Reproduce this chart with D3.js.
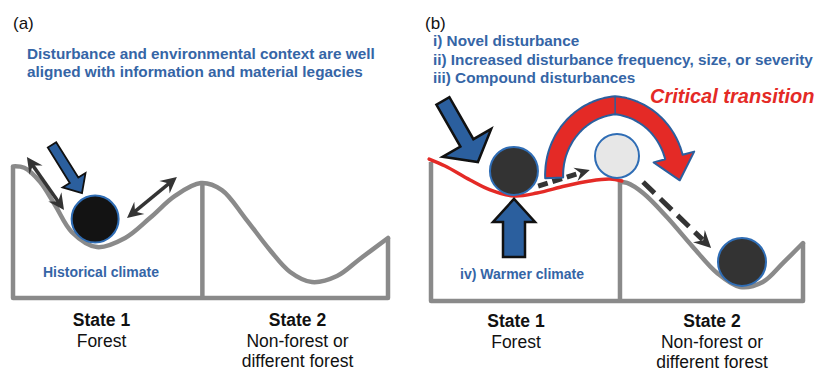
<!DOCTYPE html>
<html><head><meta charset="utf-8">
<script src="https://cdn.jsdelivr.net/npm/d3@7"></script>
<style>
html,body{margin:0;padding:0;background:#fff;}
svg{display:block;font-family:"Liberation Sans",Arial,Helvetica,sans-serif;}
</style>
</head><body>
<svg id="chart" width="818" height="371"></svg>
<script>
// ---------------- data (landscape units: x 0..100 across a panel, y = height above the floor) -------------
const panelLabels = ["(a)", "(b)"];
const stateTitles = ["State 1", "State 2"];
const stateSubtitles = [["Forest"], ["Non-forest or", "different forest"]];
const headerA = ["Disturbance and environmental context are well",
                 "aligned with information and material legacies"];
const headerB = ["i) Novel disturbance",
                 "ii) Increased disturbance frequency, size, or severity",
                 "iii) Compound disturbances"];
const climateA = "Historical climate";
const climateB = "iv) Warmer climate";
const transitionLabel = "Critical transition";

// stability landscape profiles
const profileA = [[0,94],[3,93],[7.2,83],[11.2,66.4],[15.7,47.1],[22.4,36.4],[29.9,42.9],[36.5,57.1],
                  [43.2,72.9],[50.1,82.1],[55.7,77.1],[61.9,57.1],[68.5,34.3],[73.9,18.6],[79.7,11.4],
                  [86.4,15.7],[92.5,27.9],[100,42.9]];
const dividerA = [50.5, 82];
const profileBWarm = [[-0.5,101.4],[3.8,96.4],[10.5,86.4],[15.9,79.3],[22.3,75],[28.5,77.1],[36,82.1],
                      [42.7,85.7],[48.1,87.1],[51.3,85.7]];
const profileBState2 = [[50.8,85],[52.7,84.3],[57,77.1],[63.4,60],[70.4,38.6],[76.9,20],[83.1,10],
                        [89.2,13.6],[94.6,27.1],[100,41.4]];
const leftWallB = 99.3;
const dividerB = [50.8, 85];

// balls (system states)
const ballsA = [{x:21.9, y:56.4, kind:"current"}];
const ballsB = [{x:22.3, y:92.9, kind:"current"}, {x:50.0, y:103.6, kind:"ghost"}, {x:83.6, y:27.9, kind:"current"}];

// arrows  [x1,y1,x2,y2]
const disturbArrowA = [10.4,109.3,18.4,75];
const feedbackArrowsA = [[3.7,100.7,13.6,62.9],[30.4,57.1,43.7,86.4]];
const disturbArrowB = [3.2,142.9,12.6,99.3];
const climateArrowB = [22.3,31.4,22.3,72.9];
const dashedArrowsB = [[28.8,82.1,42.7,93.6],[57.0,85.0,75.3,37.9]];
const transitionArch = {cx:49.5, cy:90};

// ---------------- styles ----------------
const GRAY = "#8a8a8a", BLUE_TXT = "#3565a6", BLUE_FILL = "#2b5f9e", BALL_STROKE = "#2f6db5",
      RED = "#e42a26", DARK = "#343434";

const svg = d3.select("#chart");

const xA = d3.scaleLinear().domain([0,100]).range([13,388]);
const yA = d3.scaleLinear().domain([0,100]).range([298,158]);
const xB = d3.scaleLinear().domain([0,100]).range([431,803]);
const yB = d3.scaleLinear().domain([0,100]).range([301,161]);

function lineGen(xs, ys, curve) {
  return d3.line().x(d => xs(d[0])).y(d => ys(d[1])).curve(curve || d3.curveLinear);
}

function blockArrow(x1,y1,x2,y2,sw,hw,hl) {
  const dx = x2-x1, dy = y2-y1, L = Math.hypot(dx,dy);
  const ux = dx/L, uy = dy/L, nx = -uy, ny = ux;
  const bx = x2-ux*hl, by = y2-uy*hl;
  const p = [
    [x1+nx*sw/2, y1+ny*sw/2], [bx+nx*sw/2, by+ny*sw/2], [bx+nx*hw/2, by+ny*hw/2], [x2,y2],
    [bx-nx*hw/2, by-ny*hw/2], [bx-nx*sw/2, by-ny*sw/2], [x1-nx*sw/2, y1-ny*sw/2]
  ];
  return "M" + p.map(q => q[0].toFixed(1)+","+q[1].toFixed(1)).join("L") + "Z";
}

function notchHead(tx,ty,ux,uy,L,W) {
  const nx = -uy, ny = ux;
  const p = [[tx,ty],[tx-ux*L+nx*W/2, ty-uy*L+ny*W/2],[tx-ux*L*0.65, ty-uy*L*0.65],[tx-ux*L-nx*W/2, ty-uy*L-ny*W/2]];
  return "M" + p.map(q => q[0].toFixed(1)+","+q[1].toFixed(1)).join("L") + "Z";
}

// ---------------- panel (a) ----------------
const gA = svg.append("g");
gA.append("path")
  .attr("d", lineGen(xA,yA)([[0,profileA[0][1]],[0,0],[100,0],[100,profileA[profileA.length-1][1]]]))
  .attr("fill","none").attr("stroke",GRAY).attr("stroke-width",4.5).attr("stroke-linejoin","round");
gA.append("path").attr("d", lineGen(xA,yA)([[dividerA[0],0],[dividerA[0],dividerA[1]]]))
  .attr("stroke",GRAY).attr("stroke-width",4.5);
gA.append("path").attr("d", lineGen(xA,yA,d3.curveCatmullRom.alpha(0.5))(profileA))
  .attr("fill","none").attr("stroke",GRAY).attr("stroke-width",4.5).attr("stroke-linecap","round");

// feedback double arrows
feedbackArrowsA.forEach(a => {
  const x1=xA(a[0]), y1=yA(a[1]), x2=xA(a[2]), y2=yA(a[3]);
  const L=Math.hypot(x2-x1,y2-y1), ux=(x2-x1)/L, uy=(y2-y1)/L;
  const hl=16, hw=16;
  gA.append("line").attr("x1",x1+ux*hl*0.6).attr("y1",y1+uy*hl*0.6).attr("x2",x2-ux*hl*0.6).attr("y2",y2-uy*hl*0.6)
    .attr("stroke",DARK).attr("stroke-width",3.5);
  gA.append("path").attr("d",notchHead(x2,y2,ux,uy,hl,hw)).attr("fill",DARK);
  gA.append("path").attr("d",notchHead(x1,y1,-ux,-uy,hl,hw)).attr("fill",DARK);
});

gA.selectAll("circle.ball").data(ballsA).join("circle").attr("class","ball")
  .attr("cx",d=>xA(d.x)).attr("cy",d=>yA(d.y)).attr("r",23.5)
  .attr("fill","#131313").attr("stroke",BALL_STROKE).attr("stroke-width",2);

gA.append("path")
  .attr("d", blockArrow(xA(disturbArrowA[0]),yA(disturbArrowA[1]),xA(disturbArrowA[2]),yA(disturbArrowA[3]),10,27,15))
  .attr("fill",BLUE_FILL).attr("stroke","#111").attr("stroke-width",1.8).attr("stroke-linejoin","miter");

// ---------------- panel (b) ----------------
const gB = svg.append("g");
gB.append("path")
  .attr("d", lineGen(xB,yB)([[0,leftWallB],[0,0],[100,0],[100,profileBState2[profileBState2.length-1][1]]]))
  .attr("fill","none").attr("stroke",GRAY).attr("stroke-width",4.5).attr("stroke-linejoin","round");
gB.append("path").attr("d", lineGen(xB,yB)([[dividerB[0],0],[dividerB[0],dividerB[1]]]))
  .attr("stroke",GRAY).attr("stroke-width",4.5);
gB.append("path").attr("d", lineGen(xB,yB,d3.curveCatmullRom.alpha(0.5))(profileBState2))
  .attr("fill","none").attr("stroke",GRAY).attr("stroke-width",4.5).attr("stroke-linecap","round");
gB.append("path").attr("d", lineGen(xB,yB,d3.curveCatmullRom.alpha(0.5))(profileBWarm))
  .attr("fill","none").attr("stroke",RED).attr("stroke-width",3.5).attr("stroke-linecap","round");

// dashed arrows
dashedArrowsB.forEach((a,i) => {
  const x1=xB(a[0]), y1=yB(a[1]), x2=xB(a[2]), y2=yB(a[3]);
  const L=Math.hypot(x2-x1,y2-y1), ux=(x2-x1)/L, uy=(y2-y1)/L;
  const hl = i===0 ? 15 : 17, hw = i===0 ? 14 : 17;
  gB.append("line").attr("x1",x1).attr("y1",y1).attr("x2",x2-ux*hl*0.7).attr("y2",y2-uy*hl*0.7)
    .attr("stroke",DARK).attr("stroke-width",5)
    .attr("stroke-dasharray", i===0 ? "10,5" : "16,8");
  gB.append("path").attr("d",notchHead(x2,y2,ux,uy,hl,hw)).attr("fill",DARK);
});

gB.selectAll("circle.ball").data(ballsB).join("circle").attr("class","ball")
  .attr("cx",d=>xB(d.x)).attr("cy",d=>yB(d.y)).attr("r",d=>d.kind==="ghost"?22:24)
  .attr("fill",d=>d.kind==="ghost"?"#e7e7e7":"#333333")
  .attr("stroke",BALL_STROKE).attr("stroke-width",2);

// critical transition arch (two lobes meeting in a slight point at the top)
(function(){
  const cx = xB(transitionArch.cx), cy = yB(transitionArch.cy);
  const d = 6;
  const ro = [70+d,79], ri = [52+d,61];
  const t0 = Math.PI + 0.04, t1 = 0.26, n = 40;
  const pt = (c,r,t) => [c + r[0]*Math.cos(t), cy - r[1]*Math.sin(t)];
  const seg = (c,r,a,b) => d3.range(n+1).map(k => pt(c,r,a+(b-a)*k/n));
  const oTopL = Math.acos(-d/ro[0]), oTopR = Math.acos(d/ro[0]);
  const iTopL = Math.acos(-d/ri[0]), iTopR = Math.acos(d/ri[0]);
  const outer = seg(cx+d,ro,t0,oTopL).concat(seg(cx-d,ro,oTopR,t1));
  const inner = seg(cx-d,ri,t1,iTopR).concat(seg(cx+d,ri,iTopL,t0));
  const oE = outer[outer.length-1], iE = inner[0];
  const vx = oE[0]-iE[0], vy = oE[1]-iE[1], vl = Math.hypot(vx,vy), wx = vx/vl, wy = vy/vl;
  const mx = (oE[0]+iE[0])/2, my = (oE[1]+iE[1])/2;
  const tdx = ro[0]*Math.sin(t1), tdy = ro[1]*Math.cos(t1), tl = Math.hypot(tdx,tdy);
  const tip = [mx + tdx/tl*24, my + tdy/tl*24];
  const hO = [oE[0]+wx*12, oE[1]+wy*12], hI = [iE[0]-wx*12, iE[1]-wy*12];
  const pts = outer.concat([hO, tip, hI]).concat(inner);
  gB.append("path").attr("d", "M"+pts.map(p=>p[0].toFixed(1)+","+p[1].toFixed(1)).join("L")+"Z")
    .attr("fill",RED).attr("stroke",BLUE_FILL).attr("stroke-width",2).attr("stroke-linejoin","round");
  const oT = pt(cx+d,ro,oTopL), iT = pt(cx+d,ri,iTopL);
  gB.append("line").attr("x1",oT[0]).attr("x2",iT[0]).attr("y1",oT[1]).attr("y2",iT[1])
    .attr("stroke",BLUE_FILL).attr("stroke-width",1.5);
})();

gB.append("path")
  .attr("d", blockArrow(xB(disturbArrowB[0]),yB(disturbArrowB[1]),xB(disturbArrowB[2]),yB(disturbArrowB[3]),15,56,22))
  .attr("fill",BLUE_FILL).attr("stroke","#111").attr("stroke-width",2.5).attr("stroke-linejoin","miter");
gB.append("path")
  .attr("d", blockArrow(xB(climateArrowB[0]),yB(climateArrowB[1]),xB(climateArrowB[2]),yB(climateArrowB[3]),22,42,23))
  .attr("fill",BLUE_FILL).attr("stroke","#111").attr("stroke-width",2.5).attr("stroke-linejoin","miter");

// ---------------- text ----------------
const T = svg.append("g");
T.append("text").attr("x",13).attr("y",29).attr("font-size",17).attr("fill","#111").text(panelLabels[0]);
T.append("text").attr("x",425).attr("y",29).attr("font-size",17).attr("fill","#111").text(panelLabels[1]);

headerA.forEach((s,i) => T.append("text").attr("x",27).attr("y",59+i*17.5)
  .attr("font-size",15.3).attr("font-weight","bold").attr("fill",BLUE_TXT).text(s));
headerB.forEach((s,i) => T.append("text").attr("x",433).attr("y",46+i*18.5)
  .attr("font-size",15.3).attr("font-weight","bold").attr("fill",BLUE_TXT).text(s));

T.append("text").attr("x",43).attr("y",277).attr("font-size",14).attr("font-weight","bold")
  .attr("fill",BLUE_TXT).text(climateA);
T.append("text").attr("x",460).attr("y",279).attr("font-size",14).attr("font-weight","bold")
  .attr("fill",BLUE_TXT).text(climateB);
T.append("text").attr("x",650).attr("y",103).attr("font-size",20).attr("font-weight","bold")
  .attr("font-style","italic").attr("fill",RED).text(transitionLabel);

const stateCenters = [[101.5,297.5],[516,712]];
const stateBase = [[326,347,367],[327,348,368]];
stateCenters.forEach((cs,p) => cs.forEach((cx,s) => {
  T.append("text").attr("x",cx).attr("y",stateBase[p][0]).attr("text-anchor","middle")
    .attr("font-size",17.5).attr("font-weight","bold").attr("fill","#111").text(stateTitles[s]);
  stateSubtitles[s].forEach((line,k) => T.append("text").attr("x",cx).attr("y",stateBase[p][1+k])
    .attr("text-anchor","middle").attr("font-size",17.5).attr("fill","#111").text(line));
}));
</script>
</body></html>
